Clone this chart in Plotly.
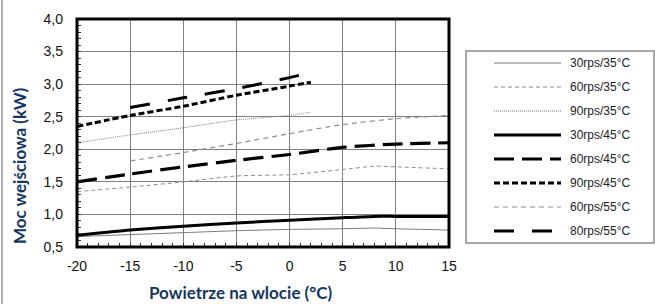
import plotly.graph_objects as go

# ---- data ----
series_names = ["30rps/35°C", "60rps/35°C", "90rps/35°C", "30rps/45°C",
                "60rps/45°C", "90rps/45°C", "60rps/55°C", "80rps/55°C"]

x_30_35 = [-20, -15, -10, -5, 0, 5, 8, 10, 15]
y_30_35 = [0.66, 0.69, 0.72, 0.75, 0.77, 0.78, 0.79, 0.78, 0.76]

x_60_35 = [-20, -15, -10, -5, 0, 5, 8, 10, 15]
y_60_35 = [1.35, 1.42, 1.50, 1.59, 1.61, 1.69, 1.74, 1.73, 1.70]

x_90_35 = [-20, -15, -10, -5, 0, 2]
y_90_35 = [2.10, 2.22, 2.33, 2.45, 2.52, 2.57]

x_30_45 = [-20, -15, -10, -5, 0, 5, 8, 10, 15]
y_30_45 = [0.68, 0.76, 0.82, 0.87, 0.91, 0.95, 0.97, 0.97, 0.97]

x_60_45 = [-20, -15, -10, -5, 0, 5, 10, 15]
y_60_45 = [1.50, 1.62, 1.73, 1.83, 1.92, 2.03, 2.08, 2.10]

x_90_45 = [-20, -15, -10, -5, 0, 2]
y_90_45 = [2.35, 2.52, 2.66, 2.83, 2.97, 3.03]

x_60_55 = [-15, -10, -5, 0, 5, 10, 15]
y_60_55 = [1.82, 1.95, 2.09, 2.24, 2.38, 2.47, 2.52]

x_80_55 = [-15, -10, -5, 0, 2]
y_80_55 = [2.64, 2.79, 2.93, 3.10, 3.18]

x_tick_vals = [-20, -15, -10, -5, 0, 5, 10, 15]
x_tick_text = ["-20", "-15", "-10", "-5", "0", "5", "10", "15"]
y_tick_vals = [0.5, 1.0, 1.5, 2.0, 2.5, 3.0, 3.5, 4.0]
y_tick_text = ["0,5", "1,0", "1,5", "2,0", "2,5", "3,0", "3,5", "4,0"]

x_title = "Powietrze na wlocie (°C)"
y_title = "Moc wejściowa (kW)"

xs = [x_30_35, x_60_35, x_90_35, x_30_45, x_60_45, x_90_45, x_60_55, x_80_55]
ys = [y_30_35, y_60_35, y_90_35, y_30_45, y_60_45, y_90_45, y_60_55, y_80_55]

styles = [
    dict(color="#7a7a7a", width=1, dash="solid"),
    dict(color="#8a8a8a", width=1, dash="4px,3px"),
    dict(color="#7a7a7a", width=1, dash="1px,1px"),
    dict(color="#000000", width=3, dash="solid"),
    dict(color="#000000", width=3.2, dash="20px,8px"),
    dict(color="#000000", width=3, dash="6px,3px"),
    dict(color="#8a8a8a", width=1.2, dash="5px,4px"),
    dict(color="#000000", width=3, dash="20px,18px"),
]

W, H = 655, 304
ML, MR, MT, MB = 77, 206, 19, 57
PW, PH = W - ML - MR, H - MT - MB

def px_x(px):
    return (px - ML) / PW

def px_y(py):
    return (H - MB - py) / PH

fig = go.Figure()
for name, xv, yv, st in zip(series_names, xs, ys, styles):
    fig.add_trace(go.Scatter(x=xv, y=yv, mode="lines", name=name,
                             line=dict(color=st["color"], width=st["width"], dash=st["dash"],
                                       shape="spline", smoothing=0.6),
                             showlegend=False, hoverinfo="skip"))

shapes = []
annotations = []
# plot frame
shapes.append(dict(type="rect", xref="paper", yref="paper", x0=0, x1=1, y0=0, y1=1,
                   line=dict(color="black", width=3), layer="above"))
# outer frame line on the left
shapes.append(dict(type="line", xref="paper", yref="paper",
                   x0=px_x(2), x1=px_x(2), y0=px_y(H), y1=px_y(0),
                   line=dict(color="#b0b0b0", width=2)))
# legend box
shapes.append(dict(type="rect", xref="paper", yref="paper",
                   x0=px_x(466), x1=px_x(654), y0=px_y(243), y1=px_y(51),
                   line=dict(color="#8c8c8c", width=1.5), fillcolor="white"))
row_y = [63, 87, 111, 135, 159, 183, 207, 231]
for name, st, ry in zip(series_names, styles, row_y):
    shapes.append(dict(type="line", xref="paper", yref="paper",
                       x0=px_x(494), x1=px_x(561), y0=px_y(ry), y1=px_y(ry),
                       line=dict(color=st["color"], width=st["width"], dash=st["dash"])))
    annotations.append(dict(xref="paper", yref="paper", x=px_x(568), y=px_y(ry),
                            text=name, showarrow=False, xanchor="left", yanchor="middle",
                            font=dict(family="Liberation Sans", size=12, color="#222")))

title_font = dict(family="Lato", size=17, color="#17365d")
tick_font = dict(family="Liberation Sans", size=14, color="#111")

annotations.append(dict(xref="paper", yref="paper", x=px_x(241), y=px_y(292),
                        text="<b>" + x_title + "</b>", showarrow=False,
                        xanchor="center", yanchor="middle", font=title_font))
annotations.append(dict(xref="paper", yref="paper", x=px_x(19), y=px_y(166),
                        text="<b>" + y_title + "</b>", showarrow=False, textangle=-90,
                        xanchor="center", yanchor="middle", font=title_font))

fig.update_layout(
    width=W, height=H,
    margin=dict(l=ML, r=MR, t=MT, b=MB),
    paper_bgcolor="white", plot_bgcolor="white",
    shapes=shapes, annotations=annotations,
    showlegend=False,
    xaxis=dict(range=[-20, 15], tickvals=x_tick_vals, ticktext=x_tick_text,
               showgrid=True, gridcolor="#808080", gridwidth=1,
               showline=False, automargin=False,
               ticks="", ticklabelstandoff=9, zeroline=False,
               minor=dict(dtick=1, ticks="inside", ticklen=4, tickcolor="#333", showgrid=False),
               tickfont=tick_font),
    yaxis=dict(range=[0.5, 4.0], tickvals=y_tick_vals, ticktext=y_tick_text,
               showgrid=True, gridcolor="#808080", gridwidth=1,
               showline=False, automargin=False,
               ticks="", ticklabelstandoff=13, zeroline=False,
               minor=dict(dtick=0.1, ticks="inside", ticklen=4, tickcolor="#333", showgrid=False),
               tickfont=tick_font),
)

fig.write_html("out.html", config={"displayModeBar": False},
               post_script="document.body.style.margin='0';document.body.style.padding='0';")
